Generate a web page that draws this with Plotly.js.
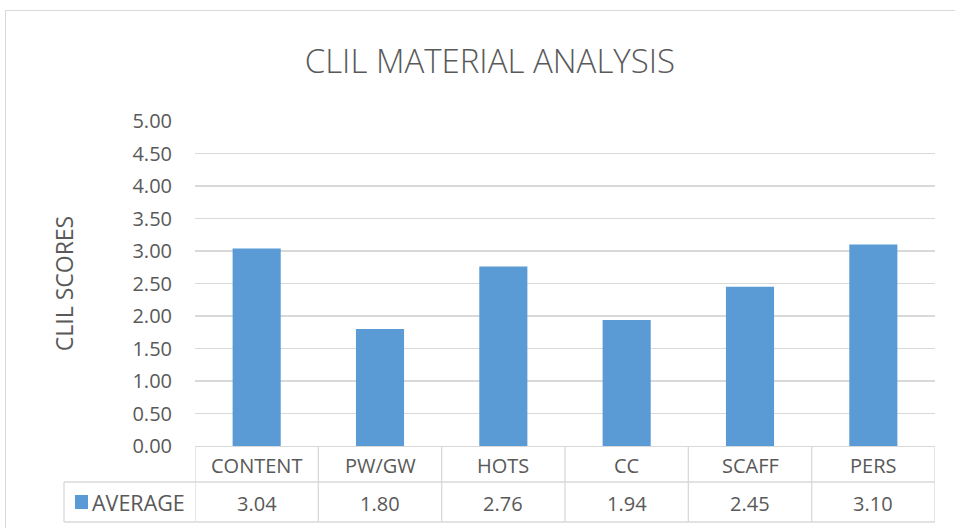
<!DOCTYPE html>
<html><head><meta charset="utf-8">
<script src="https://cdn.plot.ly/plotly-3.0.1.min.js"></script>
<style>html,body{margin:0;padding:0;background:#fff}#chart{width:955px;height:528px}</style>
</head><body><div id="chart"></div>
<script>
const categories = ["CONTENT", "PW/GW", "HOTS", "CC", "SCAFF", "PERS"];
const averages = [3.04, 1.80, 2.76, 1.94, 2.45, 3.10];
const seriesName = "AVERAGE";
const yTicks = [0, 0.5, 1, 1.5, 2, 2.5, 3, 3.5, 4, 4.5, 5];

const W = 955, H = 528, L = 195, R = 20, T = 121, B = 82;
const pw = W - L - R, ph = H - T - B;
const px = v => (v - L) / pw;
const py = v => (H - B - v) / ph;
const grid = '#d9d9d9', txt = '#595959', blue = '#5b9bd5';
const FONT = 'Open Sans, sans-serif';
const FS = 20;

const shapes = [];
const annotations = [];
// outer chart border
shapes.push({type:'rect', xref:'paper', yref:'paper', x0:px(5.5), x1:px(1000), y0:py(10.5), y1:py(600), line:{color:'#d9d9d9', width:1}, fillcolor:'rgba(0,0,0,0)', layer:'below'});
// table horizontal lines
[482, 522].forEach(y => shapes.push({type:'line', xref:'paper', yref:'paper', x0:px(64), x1:1, y0:py(y), y1:py(y), line:{color:grid, width:1.3}}));
// table verticals
for (let i = 0; i <= categories.length; i++) {
  shapes.push({type:'line', xref:'x', yref:'paper', x0:i-0.5, x1:i-0.5, y0:0, y1:py(522), line:{color:grid, width:1.3}});
}
shapes.push({type:'line', xref:'paper', yref:'paper', x0:px(64), x1:px(64), y0:py(482), y1:py(522), line:{color:grid, width:1.3}});
// legend key
shapes.push({type:'rect', xref:'paper', yref:'paper', x0:px(75), x1:px(88), y0:py(495), y1:py(509), line:{width:0}, fillcolor:blue});
annotations.push({xref:'paper', yref:'paper', x:px(90), y:py(502), text:seriesName, showarrow:false, xanchor:'left', yanchor:'middle', font:{size:FS+1.5, color:txt, family:FONT}});

categories.forEach((c, i) => {
  annotations.push({xref:'x', yref:'paper', x:i, y:py(465), text:c, showarrow:false, xanchor:'center', yanchor:'middle', font:{size:FS, color:txt, family:FONT}});
  annotations.push({xref:'x', yref:'paper', x:i, y:py(503), text:averages[i].toFixed(2), showarrow:false, xanchor:'center', yanchor:'middle', font:{size:FS, color:txt, family:FONT}});
});

const data = [{
  type:'bar', x:categories, y:averages, name:seriesName,
  marker:{color:blue}, hoverinfo:'x+y'
}];

const layout = {
  width:W, height:H,
  margin:{l:L, r:R, t:T, b:B, pad:0},
  paper_bgcolor:'#fff', plot_bgcolor:'#fff',
  showlegend:false,
  bargap:0.61,
  title:{text:'CLIL MATERIAL ANALYSIS', x:0.513, xanchor:'center', y:1-61/H, yanchor:'middle', font:{size:33, color:txt, family:FONT, weight:300}},
  xaxis:{type:'category', range:[-0.5, categories.length-0.5], showticklabels:false, ticks:'', showgrid:false, showline:true, linecolor:grid, linewidth:1.3, zeroline:false, fixedrange:true},
  yaxis:{range:[0,5], tickvals:yTicks, ticktext:yTicks.map(v=>v.toFixed(2)), showgrid:true, gridcolor:grid, gridwidth:1.3, zeroline:false, showline:false, ticks:'', ticklabelstandoff:22, tickfont:{size:FS, color:txt, family:FONT},
    title:{text:'CLIL SCORES', standoff:52, font:{size:23, color:txt, family:FONT}}, fixedrange:true},
  shapes:shapes, annotations:annotations
};
Plotly.newPlot('chart', data, layout, {displayModeBar:false, staticPlot:true});
</script>
</body></html>
